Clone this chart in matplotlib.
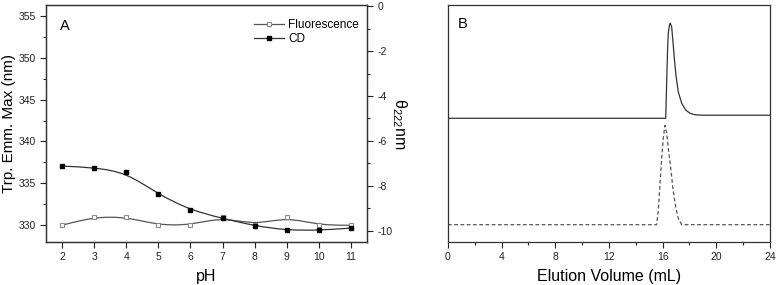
import numpy as np
import matplotlib
matplotlib.use("Agg")
import matplotlib.pyplot as plt
from matplotlib.path import Path
from matplotlib.patches import PathPatch
from matplotlib.lines import Line2D
from matplotlib.ticker import MultipleLocator

# panel A data
ph = [2, 3, 4, 5, 6, 7, 8, 9, 10, 11]
fluorescence = [330, 331, 331, 330, 330, 331, 330, 331, 330, 330]
cd = [-7.12, -7.19, -7.40, -8.38, -9.08, -9.45, -9.78, -9.98, -9.98, -9.88]

# panel B data (arbitrary units 0..1)
solid_vol = [0, 16.23, 16.30, 16.37, 16.42, 16.52, 16.57, 16.67, 16.77, 16.87, 16.99,
             17.16, 17.42, 17.72, 18.04, 18.41, 18.9, 24]
solid_sig = [0.522, 0.522, 0.676, 0.817, 0.881, 0.919, 0.923, 0.908, 0.845, 0.775, 0.705,
             0.634, 0.585, 0.557, 0.543, 0.537, 0.535, 0.535]
dash_vol = [0, 15.55, 15.67, 15.80, 15.93, 16.05, 16.17, 16.30, 16.42, 16.60, 16.79,
            16.99, 17.16, 17.42, 24]
dash_sig = [0.073, 0.073, 0.130, 0.242, 0.354, 0.439, 0.492, 0.460, 0.397, 0.312, 0.214,
            0.143, 0.101, 0.073, 0.073]

plt.rcParams["font.family"] = ["Liberation Sans", "DejaVu Sans"]
plt.rcParams["axes.unicode_minus"] = False
plt.rcParams["mathtext.fontset"] = "custom"
plt.rcParams["mathtext.rm"] = "Liberation Sans"
plt.rcParams["mathtext.it"] = "Liberation Sans"


def bspline_path(x, y):
    # clamped uniform cubic B-spline (Origin style) as bezier segments
    pts = np.column_stack([x, y]).astype(float)
    pts = np.vstack([pts[0], pts[0], pts, pts[-1], pts[-1]])
    verts = []
    codes = []
    for i in range(len(pts) - 3):
        q0, q1, q2, q3 = pts[i:i + 4]
        b0 = (q0 + 4 * q1 + q2) / 6
        b1 = (2 * q1 + q2) / 3
        b2 = (q1 + 2 * q2) / 3
        b3 = (q1 + 4 * q2 + q3) / 6
        if i == 0:
            verts.append(b0)
            codes.append(Path.MOVETO)
        verts += [b1, b2, b3]
        codes += [Path.CURVE4] * 3
    return Path(verts, codes)


def style_ticks(ax):
    ax.tick_params(which="major", direction="out", length=4, width=0.8,
                   labelsize=7.5, colors="#222")
    ax.tick_params(which="minor", direction="out", length=2, width=0.8, colors="#222")
    for s in ax.spines.values():
        s.set_color("#333")
        s.set_linewidth(0.9)


fig = plt.figure(figsize=(7.78, 2.85), dpi=100)

# ---- panel A
ax = fig.add_axes([0.0591, 0.1509, 0.4126, 0.8316])
ax2 = ax.twinx()

ax.add_patch(PathPatch(bspline_path(ph, fluorescence), fill=False, ec="#555", lw=0.9))
ax.plot(ph, fluorescence, "s", ms=3.5, mfc="white", mec="#888", mew=0.8)
ax2.add_patch(PathPatch(bspline_path(ph, cd), fill=False, ec="#333", lw=0.9))
ax2.plot(ph, cd, "s", ms=3.5, color="black")

ax.set_xlim(1.5, 11.5)
ax.set_ylim(328, 356.3)
ax2.set_ylim(-10.5, 0.05)
ax.set_xticks(ph)
ax.yaxis.set_major_locator(MultipleLocator(5))
ax.yaxis.set_minor_locator(MultipleLocator(2.5))
ax2.yaxis.set_major_locator(MultipleLocator(2))
ax2.yaxis.set_minor_locator(MultipleLocator(1))
style_ticks(ax)
style_ticks(ax2)

ax.set_xlabel("pH", fontsize=11.5, labelpad=5)
ax.set_ylabel("Trp. Emm. Max (nm)", fontsize=11, labelpad=2)
ax2.set_ylabel("θ$_{222}$nm", fontsize=11.5, rotation=270, labelpad=12)
ax.text(0.045, 0.91, "A", transform=ax.transAxes, fontsize=10.5, va="center")

handles = [
    Line2D([], [], color="#555", lw=0.9, marker="s", ms=3.5, mfc="white", mec="#888", mew=0.8),
    Line2D([], [], color="#333", lw=0.9, marker="s", ms=3.5, mfc="black", mec="black"),
]
ax.legend(handles, ["Fluorescence", "CD"], loc="upper right", frameon=False,
          fontsize=8.5, handlelength=2.6, handletextpad=0.3, labelspacing=0.15,
          borderaxespad=0.3, bbox_to_anchor=(1.0, 0.975))

# ---- panel B
bx = fig.add_axes([0.5758, 0.1509, 0.4139, 0.8316])
bx.plot(solid_vol, solid_sig, color="#333", lw=0.9)
bx.plot(dash_vol, dash_sig, color="#555", lw=0.9, dashes=(3, 2))
bx.set_xlim(0, 24)
bx.set_ylim(0, 1)
bx.set_yticks([])
bx.xaxis.set_major_locator(MultipleLocator(4))
bx.xaxis.set_minor_locator(MultipleLocator(2))
style_ticks(bx)
bx.set_xlabel("Elution Volume (mL)", fontsize=11.5, labelpad=5)
bx.text(0.03, 0.92, "B", transform=bx.transAxes, fontsize=10.5, va="center")

fig.savefig("out.png", dpi=100)
